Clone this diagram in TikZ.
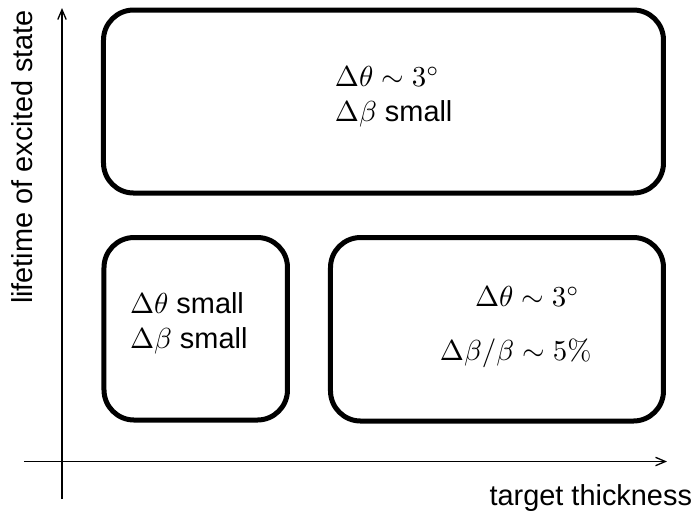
\documentclass[tikz,border=0pt]{standalone}
\usepackage[no-math]{fontspec}
\setmainfont{Liberation Sans}
\usetikzlibrary{arrows.meta}
\tikzset{
  region/.style={line width=1.73pt, rounded corners=10.4pt},
  axis/.style={line width=0.45pt, -{Straight Barb[length=3.4pt,width=2.9pt,line width=0.45pt]}},
  lbl/.style={inner sep=0pt, outer sep=0pt, anchor=base west},
}
\begin{document}
\begin{tikzpicture}[x=0.346pt, y=-0.346pt]
\useasboundingbox (0,0) rectangle (695,516);
% axes
\coordinate (ystart) at (62,499);
\coordinate (yend) at (62,8);
\coordinate (xstart) at (24,461.5);
\coordinate (xend) at (667,461.5);
\draw[axis] (ystart) -- (yend);
\draw[axis] (xstart) -- (xend);
\node[lbl, anchor=base east, rotate=90] (ylab) at (33,10) {lifetime of excited state};
\node[lbl, anchor=base east] (xlab) at (692,505) {target thickness};
% regions
\coordinate (t1) at (103.5,10);  \coordinate (t2) at (663.5,193);
\coordinate (l1) at (104,237.5); \coordinate (l2) at (287.5,420);
\coordinate (r1) at (330.5,237.5); \coordinate (r2) at (663.5,421);
\draw[region] (t1) rectangle (t2);
\draw[region] (l1) rectangle (l2);
\draw[region] (r1) rectangle (r2);
% texts
\node[lbl] (ta) at (335,86.7) {$\Delta\theta\sim 3^\circ$};
\node[lbl] (tb) at (335,121.7) {$\Delta\beta$ small};
\node[lbl] (la) at (130,313.5) {$\Delta\theta$ small};
\node[lbl] (lb) at (130,348) {$\Delta\beta$ small};
\node[lbl] (ra) at (475,306.7) {$\Delta\theta\sim 3^\circ$};
\node[lbl] (rb) at (440,360) {$\Delta\beta/\beta\sim 5\%$};
\end{tikzpicture}
\end{document}
